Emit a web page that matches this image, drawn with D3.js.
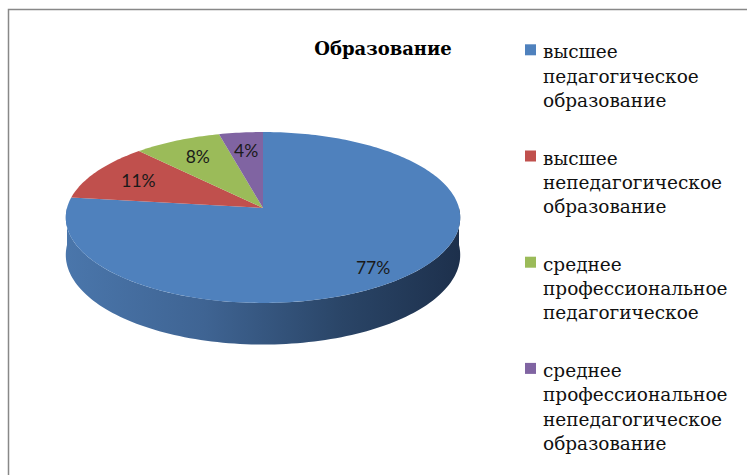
<!DOCTYPE html>
<html>
<head>
<meta charset="utf-8">
<script src="https://cdn.jsdelivr.net/npm/d3@7"></script>
<style>
    html, body { margin: 0; padding: 0; background: #fff; }
    svg { display: block; }
</style>
</head>
<body>
<svg id="chart"></svg>
<script>
// data
const title = 'Образование'
const categories = [
    ['высшее', 'педагогическое', 'образование'],
    ['высшее', 'непедагогическое', 'образование'],
    ['среднее', 'профессиональное', 'педагогическое'],
    ['среднее', 'профессиональное', 'непедагогическое', 'образование']
]
const values = [77, 11, 8, 4]
const colors = ['#4f81bd', '#c0504d', '#9bbb59', '#8064a2']

const width = 747
const height = 475

const svg = d3.select('#chart')
    .attr('width', width)
    .attr('height', height)

// frame
svg.append('rect')
    .attr('x', 8.5)
    .attr('y', 9.5)
    .attr('width', 800)
    .attr('height', 500)
    .attr('fill', 'none')
    .attr('stroke', '#888')
    .attr('stroke-width', 1.5)

// 3d pie geometry (a tilted disc seen with a little perspective)
const cx = 263
const cy = 208
const rx = 196
const ry = 84.4
const k = 0.111
const depth = 37

// angle is clockwise from 12 o'clock, t is the radial fraction
function project(angle, t = 1, dy = 0)
{
    const u = Math.sin(angle) * t
    const v = -Math.cos(angle) * t
    const f = 1 / (1 - k * v)
    return [cx + rx * u * f, cy + ry * v * f + dy * f]
}

const pie = d3.pie().sort(null).value(d => d)
const arcs = pie(values)

const line = d3.line()

// side of the disc, only the front half shows
const defs = svg.append('defs')
const grad = defs.append('linearGradient')
    .attr('id', 'side')
    .attr('x1', '0%').attr('x2', '100%')
    .attr('y1', '0%').attr('y2', '0%')
grad.selectAll('stop')
    .data([[0, '#4a76ab'], [0.35, '#3f6493'], [0.7, '#2a4567'], [1, '#1d304c']])
    .join('stop')
    .attr('offset', d => d[0])
    .attr('stop-color', d => d[1])

const steps = 120
const front = d3.range(steps + 1).map(i => Math.PI / 2 + Math.PI * i / steps)
const sidePts = front.map(a => project(a))
    .concat(front.slice().reverse().map(a => project(a, 1, depth)))

svg.append('path')
    .attr('d', line(sidePts) + 'Z')
    .attr('fill', 'url(#side)')

// top face
const slices = svg.append('g')

slices.selectAll('path')
    .data(arcs)
    .join('path')
    .attr('d', d =>
    {
        const n = Math.max(4, Math.ceil((d.endAngle - d.startAngle) / 0.02))
        const pts = [[cx, cy]].concat(
            d3.range(n + 1).map(i => project(d.startAngle + (d.endAngle - d.startAngle) * i / n))
        )
        return line(pts) + 'Z'
    })
    .attr('fill', (d, i) => colors[i])

// percent labels
const total = d3.sum(values)
slices.selectAll('text')
    .data(arcs)
    .join('text')
    .attr('transform', d =>
    {
        const mid = (d.startAngle + d.endAngle) / 2
        const big = d.value / total > 0.5
        const p = project(mid, big ? 0.84 : 0.74)
        return `translate(${p[0] - (big ? 7 : 0)}, ${p[1] + (big ? 3 : 0)})`
    })
    .attr('text-anchor', 'middle')
    .attr('dy', '0.36em')
    .attr('font-family', 'Lato, sans-serif')
    .attr('font-size', 17.5)
    .attr('fill', '#1a1a1a')
    .text(d => Math.round(d.value / total * 100) + '%')

// title
svg.append('text')
    .attr('x', 383)
    .attr('y', 55)
    .attr('text-anchor', 'middle')
    .attr('font-family', 'DejaVu Serif')
    .attr('font-weight', 'bold')
    .attr('font-size', 18)
    .text(title)

// legend
const legendX = 525
const firstBaseline = 58.3
const itemStep = 106.2
const lineStep = 24.4

const legend = svg.append('g')

const items = legend.selectAll('g')
    .data(categories)
    .join('g')
    .attr('transform', (d, i) => `translate(${legendX}, ${firstBaseline + i * itemStep})`)

items.append('rect')
    .attr('x', 0)
    .attr('y', -14)
    .attr('width', 11)
    .attr('height', 11)
    .attr('fill', (d, i) => colors[i])

items.append('text')
    .attr('x', 18)
    .attr('font-family', 'DejaVu Serif')
    .attr('font-size', 18.5)
    .attr('fill', '#111')
    .selectAll('tspan')
    .data(d => d)
    .join('tspan')
    .attr('x', 18)
    .attr('y', (d, i) => i * lineStep)
    .text(d => d)
</script>
</body>
</html>
